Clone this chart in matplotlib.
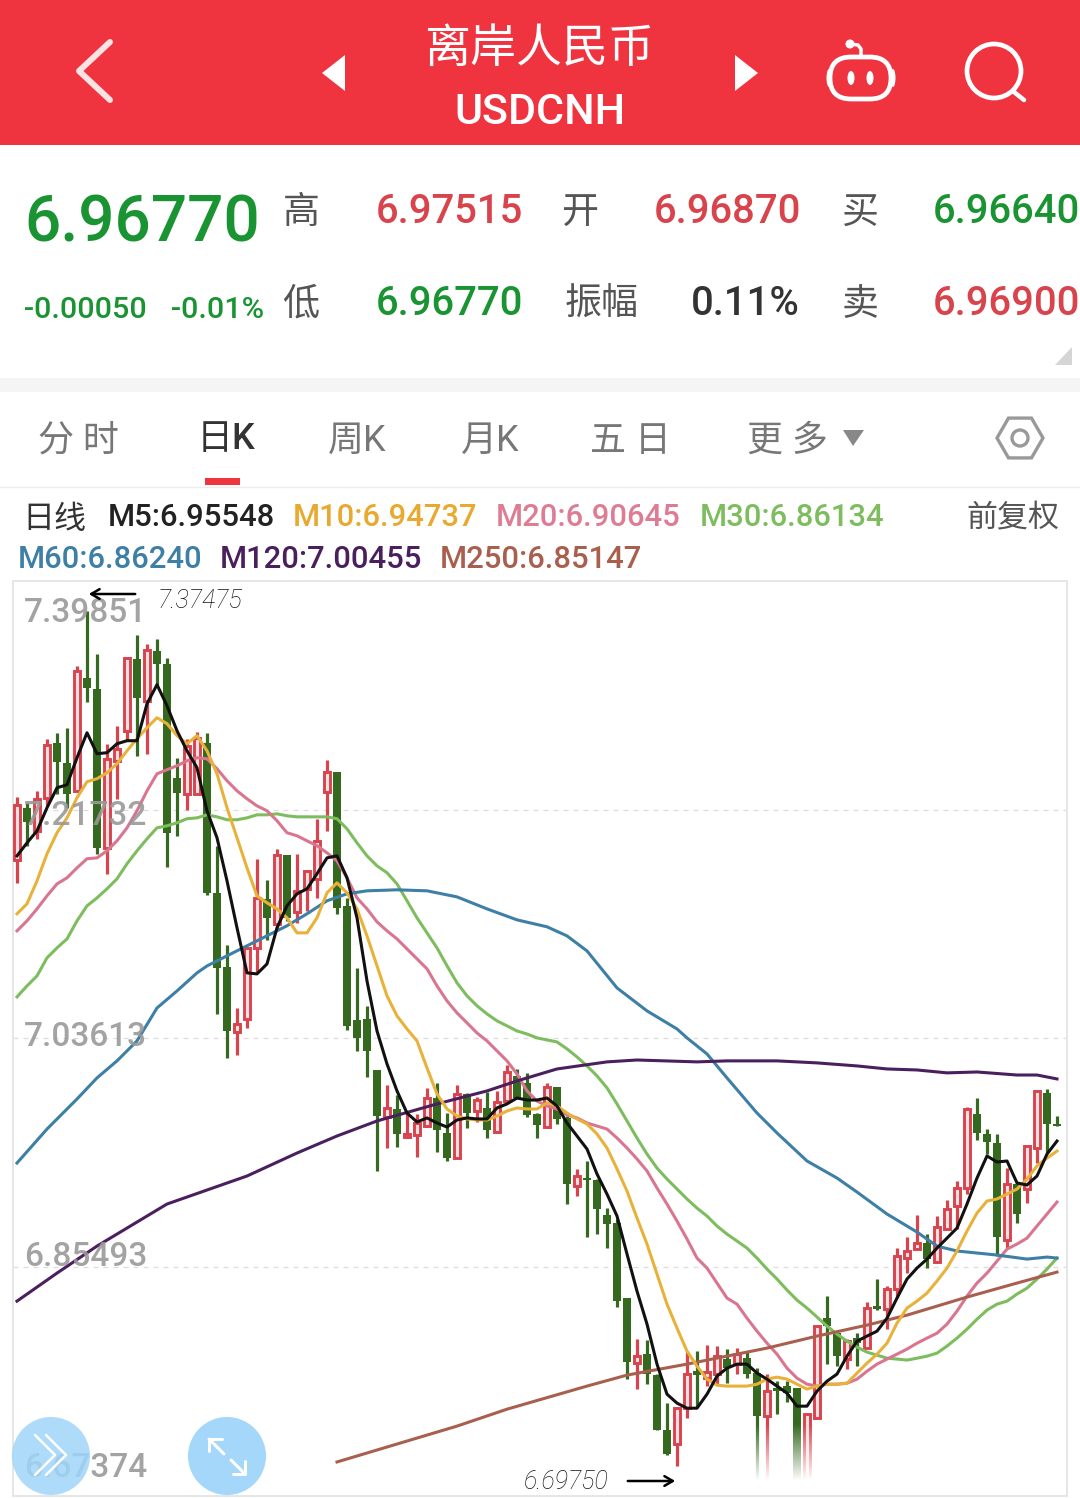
import numpy as np
import matplotlib
matplotlib.use('Agg')
import matplotlib.pyplot as plt
from matplotlib.patches import Rectangle, Circle, Polygon, FancyBboxPatch, Ellipse

plt.rcParams['font.family'] = ['Roboto', 'Noto Sans CJK SC', 'DejaVu Sans']

# 日K数据，从图上读的
high = [7.2276,7.2228,7.2323,7.2736,7.2783,7.2823,7.3314,7.37475,7.3409,7.2696,7.2839,7.3386,7.3560,7.3489,7.3528,7.3378,7.2585,7.2736,7.2791,7.2783,
        7.1887,7.1103,7.0603,7.1079,7.1785,7.1618,7.1864,7.1816,7.1824,7.1697,7.2102,7.2569,7.2474,7.1475,7.0921,7.0620,7.0112,6.9993,6.9914,6.9787,
        6.9763,6.9970,7.0009,6.9771,6.9993,6.9930,6.9898,6.9938,6.9946,7.0152,7.0120,7.0089,6.9771,7.0009,6.9977,6.9747,6.9328,6.9391,6.9248,6.9018,
        6.8931,6.8305,6.7980,6.7972,6.7703,6.7473,6.7441,6.7885,6.7885,6.7933,6.7925,6.7901,6.7909,6.7885,6.7750,6.7703,6.7647,6.7647,6.7592,6.7386,
        6.8083,6.8321,6.8043,6.7980,6.8027,6.8273,6.8456,6.8400,6.8701,6.8789,6.8963,6.8812,6.8955,6.9082,6.9232,6.9819,6.9890,6.9644,6.9605,6.9335,
        6.9217,6.9518,6.9954,6.9961,6.9747]
low = [7.1594,7.1888,7.1943,7.2204,7.2300,7.2189,7.2323,7.3029,7.1824,7.1666,7.2260,7.2728,7.2601,7.2617,7.3156,7.1721,7.1967,7.2173,7.2300,7.1499,
       7.0556,7.0207,7.0231,7.0445,7.0881,7.1143,7.1229,7.1293,7.1277,7.1372,7.1475,7.2006,7.1349,7.0429,7.0263,7.0057,6.9312,6.9494,6.9502,6.9573,
       6.9423,6.9660,6.9462,6.9391,6.9414,6.9652,6.9700,6.9573,6.9613,6.9858,6.9882,6.9740,6.9573,6.9652,6.9684,6.9050,6.9114,6.8789,6.8812,6.8701,
       6.8234,6.7663,6.7584,6.7623,6.7259,6.7061,6.6975,6.7354,6.7441,6.7608,6.7623,6.7631,6.7703,6.7671,6.6831,6.6831,6.7386,6.7481,6.6831,6.6831,
       6.7354,6.7782,6.7766,6.7742,6.7766,6.7909,6.8210,6.8059,6.8305,6.8503,6.8693,6.8543,6.8582,6.8844,6.8852,6.9129,6.9557,6.9446,6.8638,6.8701,
       6.8899,6.9058,6.9375,6.9454,6.9668]
open_ = [7.1777,7.2189,7.2006,7.2268,7.2704,7.2545,7.2323,7.3219,7.3132,7.1872,7.2561,7.2799,7.3370,7.3037,7.3433,7.3330,7.2427,7.2300,7.2300,7.2704,
         7.1515,7.0929,7.0413,7.0516,7.1079,7.1468,7.1269,7.1816,7.1364,7.1547,7.1626,7.2315,7.2474,7.1412,7.0508,7.0516,7.0112,6.9740,6.9803,6.9581,
         6.9597,6.9668,6.9890,6.9613,6.9414,6.9922,6.9787,6.9811,6.9621,6.9866,7.0065,7.0009,6.9763,6.9660,6.9977,6.9732,6.9193,6.9256,6.9241,6.8963,
         6.8899,6.8305,6.7790,6.7861,6.7695,6.7259,6.7148,6.7433,6.7727,6.7671,6.7703,6.7822,6.7782,6.7829,6.7711,6.7370,6.7592,6.7608,6.7592,6.6854,
         6.7354,6.8146,6.8027,6.7822,6.7988,6.7909,6.8241,6.8218,6.8376,6.8622,6.8693,6.8741,6.8590,6.8852,6.9034,6.9177,6.9763,6.9605,6.9534,6.8765,
         6.9209,6.9169,6.9494,6.9930,6.9684]
close = [7.2212,7.2078,7.2260,7.2688,7.2553,7.2300,7.3275,7.3140,7.1872,7.2577,7.2656,7.3378,7.3061,7.3441,7.3330,7.1991,7.2308,7.2680,7.2744,7.1515,
         7.0921,7.0421,7.0477,7.1079,7.1475,7.1317,7.1816,7.1317,7.1531,7.1689,7.1927,7.2474,7.1396,7.0461,7.0366,7.0263,6.9747,6.9811,6.9605,6.9605,
         6.9692,6.9890,6.9636,6.9414,6.9922,6.9771,6.9874,6.9636,6.9858,7.0096,6.9890,6.9756,6.9676,6.9977,6.9724,6.9209,6.9272,6.9241,6.9010,6.8892,
         6.8281,6.7798,6.7845,6.7703,6.7259,6.7069,6.7433,6.7703,6.7695,6.7719,6.7845,6.7750,6.7861,6.7703,6.7370,6.7568,6.7568,6.7552,6.6854,6.7386,
         6.8083,6.8083,6.7845,6.7964,6.7948,6.8226,6.8218,6.8376,6.8638,6.8678,6.8741,6.8614,6.8868,6.9010,6.9177,6.9803,6.9613,6.9541,6.8789,6.9209,
         6.8971,6.9510,6.9946,6.9684,6.9668]

ma5 = [7.1808,7.1911,7.2006,7.2189,7.2347,7.2371,7.2585,7.2783,7.2617,7.2625,7.2696,7.2720,7.2720,7.3013,7.3164,7.2997,7.2799,7.2640,7.2506,7.2165,
       7.1951,7.1610,7.1238,7.0881,7.0873,7.0952,7.1238,7.1412,7.1507,7.1547,7.1666,7.1792,7.1808,7.1634,7.1317,7.0817,7.0421,7.0160,6.9946,6.9771,
       6.9700,6.9732,6.9692,6.9660,6.9716,6.9732,6.9724,6.9724,6.9811,6.9843,6.9890,6.9874,6.9874,6.9890,6.9827,6.9692,6.9589,6.9486,6.9288,6.9129,
       6.8955,6.8654,6.8360,6.8099,6.7782,6.7544,6.7473,6.7433,6.7433,6.7544,6.7687,6.7750,6.7782,6.7782,6.7711,6.7663,6.7608,6.7552,6.7449,6.7449,
       6.7568,6.7647,6.7703,6.7845,6.7964,6.8004,6.8043,6.8146,6.8305,6.8456,6.8543,6.8614,6.8701,6.8780,6.8860,6.9050,6.9256,6.9431,6.9383,6.9391,
       6.9217,6.9201,6.9272,6.9446,6.9549]
ma10 = [7.1349,7.1428,7.1610,7.1824,7.1991,7.2109,7.2268,7.2395,7.2419,7.2466,7.2538,7.2640,7.2736,7.2823,7.2902,7.2855,7.2760,7.2696,7.2760,7.2640,
        7.2458,7.2189,7.1951,7.1713,7.1491,7.1436,7.1388,7.1317,7.1198,7.1198,7.1317,7.1515,7.1594,7.1515,7.1388,7.1174,7.0937,7.0699,7.0540,7.0437,
        7.0342,7.0128,6.9922,6.9803,6.9747,6.9724,6.9716,6.9716,6.9747,6.9787,6.9811,6.9803,6.9803,6.9851,6.9827,6.9771,6.9724,6.9684,6.9605,6.9494,
        6.9328,6.9153,6.8939,6.8733,6.8495,6.8257,6.8067,6.7885,6.7766,6.7663,6.7615,6.7608,6.7608,6.7608,6.7623,6.7663,6.7679,6.7663,6.7623,6.7584,
        6.7608,6.7623,6.7623,6.7631,6.7711,6.7790,6.7861,6.7948,6.8107,6.8226,6.8281,6.8345,6.8440,6.8543,6.8678,6.8836,6.8979,6.9074,6.9090,6.9129,
        6.9169,6.9248,6.9352,6.9414,6.9470]
ma20 = [7.1214,7.1293,7.1388,7.1491,7.1586,7.1634,7.1713,7.1785,7.1792,7.1848,7.1927,7.2030,7.2165,7.2323,7.2458,7.2490,7.2522,7.2561,7.2585,7.2577,
        7.2498,7.2403,7.2323,7.2260,7.2204,7.2165,7.2086,7.1991,7.1967,7.1927,7.1888,7.1832,7.1769,7.1634,7.1475,7.1388,7.1285,7.1214,7.1150,7.1071,
        7.0992,7.0913,7.0778,7.0659,7.0564,7.0485,7.0405,7.0342,7.0263,7.0184,7.0080,6.9946,6.9866,6.9827,6.9803,6.9756,6.9732,6.9692,6.9668,6.9644,
        6.9573,6.9494,6.9407,6.9312,6.9177,6.9050,6.8915,6.8773,6.8622,6.8543,6.8424,6.8305,6.8257,6.8146,6.8043,6.7948,6.7861,6.7750,6.7671,6.7623,
        6.7608,6.7623,6.7623,6.7631,6.7663,6.7726,6.7782,6.7822,6.7861,6.7901,6.7948,6.7988,6.8027,6.8099,6.8202,6.8321,6.8424,6.8503,6.8598,6.8693,
        6.8733,6.8780,6.8876,6.8971,6.9066]
ma30 = [7.0691,7.0778,7.0857,7.1000,7.1079,7.1150,7.1293,7.1412,7.1475,7.1547,7.1626,7.1745,7.1848,7.1943,7.2030,7.2046,7.2070,7.2102,7.2109,7.2133,
        7.2117,7.2094,7.2094,7.2109,7.2133,7.2133,7.2141,7.2125,7.2117,7.2117,7.2117,7.2117,7.2102,7.2022,7.1911,7.1808,7.1729,7.1674,7.1586,7.1452,
        7.1317,7.1198,7.1079,7.0937,7.0802,7.0699,7.0620,7.0556,7.0501,7.0461,7.0421,7.0397,7.0366,7.0350,7.0334,7.0279,7.0215,7.0144,7.0065,6.9970,
        6.9843,6.9708,6.9573,6.9446,6.9335,6.9248,6.9169,6.9090,6.9018,6.8955,6.8876,6.8812,6.8757,6.8701,6.8622,6.8535,6.8456,6.8369,6.8289,6.8226,
        6.8155,6.8083,6.8020,6.7964,6.7917,6.7877,6.7853,6.7829,6.7822,6.7814,6.7829,6.7845,6.7869,6.7925,6.7988,6.8059,6.8138,6.8210,6.8257,6.8281,
        6.8337,6.8384,6.8456,6.8535,6.8622]
# 长周期均线比较平滑，隔几根取一个点
ma60_i = [0,3,6,8,10,12,14,16,18,19,21,24,27,29,31,33,35,38,41,44,47,50,53,55,57,60,63,66,67,69,71,74,76,79,82,84,87,90,92,94,96,98,101,103,104]
ma60 = [6.9375,6.9644,6.9882,7.0049,7.0184,7.0342,7.0603,7.0738,7.0881,7.0936,7.1016,7.1135,7.1254,7.1349,7.1452,7.1507,7.1531,7.1539,7.1531,7.1483,
        7.1388,7.1301,7.1246,7.1174,7.1055,7.0762,7.0580,7.0437,7.0366,7.0239,7.0049,6.9771,6.9613,6.9391,6.9256,6.9145,6.8971,6.8828,6.8717,6.8678,
        6.8662,6.8646,6.8614,6.8630,6.8622]
ma120_i = [0,4,8,15,23,28,32,36,42,47,50,54,59,62,68,71,76,80,84,87,90,93,96,100,102,104]
ma120 = [6.8281,6.8503,6.8717,6.9050,6.9272,6.9454,6.9589,6.9708,6.9843,6.9946,7.0025,7.0120,7.0176,7.0191,7.0176,7.0184,7.0184,7.0168,7.0144,7.0120,
         7.0112,7.0089,7.0096,7.0072,7.0072,7.0041]
ma250_i = [32,44,49,57,61,67,75,80,85,89,95,100,104]
ma250 = [6.7007,6.7291,6.7425,6.7608,6.7695,6.7782,6.7909,6.8004,6.8091,6.8170,6.8313,6.8424,6.8511]

yticks = [7.39851, 7.21732, 7.03613, 6.85493, 6.67374]
ytick_labels = ['7.39851', '7.21732', '7.03613', '6.85493', '6.67374']

ma_legend1 = [('M5:6.95548', '#222222'), ('M10:6.94737', '#E8A92E'), ('M20:6.90645', '#DE7C93'), ('M30:6.86134', '#7DBD5E')]
ma_legend2 = [('M60:6.86240', '#3E7FA6'), ('M120:7.00455', '#4A1F5E'), ('M250:6.85147', '#A95F4E')]

RED = '#D8434E'
GREEN = '#35691F'
HEAD = '#EF333F'
UP = '#D9434B'
DOWN = '#1A9432'

W, H = 1080, 1498
fig = plt.figure(figsize=(W / 100, H / 100), dpi=100, facecolor='white')

# K线区域
ax = fig.add_axes([13 / W, 1 - 1496 / H, (1067 - 13) / W, (1496 - 581) / H])
ax.set_xlim(-0.4, 105)
ax.set_ylim(yticks[-1], yticks[0])
ax.set_xticks([])
ax.set_yticks([])
for s in ax.spines.values():
    s.set_color('#E6E6E6')
    s.set_linewidth(1.4)
for t in yticks[1:-1]:
    ax.axhline(t, color='#DDDDDD', lw=0.9, ls=(0, (4, 4)), zorder=1)

idx = np.arange(len(close))
o = np.array(open_)
c = np.array(close)
up = c >= o
colors = [RED if u else GREEN for u in up]
ax.vlines(idx, low, high, colors=colors, lw=2.3, zorder=2)
ax.bar(idx[~up], np.maximum(np.abs(c - o)[~up], 0.001), bottom=np.minimum(o, c)[~up], width=0.76, color=GREEN, lw=0, zorder=3)
ax.bar(idx[up], np.maximum(np.abs(c - o)[up], 0.001), bottom=np.minimum(o, c)[up], width=0.58,
       facecolor='#F8DFE1', edgecolor=RED, lw=2.1, zorder=3)

ax.plot(idx, ma30, color='#7DBD5E', lw=2.2, zorder=4)
ax.plot(idx, ma20, color='#DA7590', lw=2.2, zorder=4)
ax.plot(ma60_i, ma60, color='#3E7FA6', lw=2.2, zorder=4)
ax.plot(ma120_i, ma120, color='#4A1F5E', lw=2.2, zorder=4)
ax.plot(ma250_i, ma250, color='#A95F4E', lw=2.2, zorder=4)
ax.plot(idx, ma10, color='#E8B23A', lw=2.2, zorder=5)
ax.plot(idx, ma5, color='#111111', lw=2.2, zorder=6)

# 上面一层全部按像素画
ui = fig.add_axes([0, 0, 1, 1], zorder=5)
ui.patch.set_alpha(0)
ui.axis('off')


def txt(x, y, s, px, color, ha='center', **kw):
    ui.text(x, y, s, fontsize=px * 0.72, color=color, ha=ha, va='center', **kw)


def line(xs, ys, color='white', px=5, **kw):
    ui.plot(xs, ys, color=color, lw=px * 0.72, solid_capstyle='round', solid_joinstyle='round', **kw)


# 底部水印渐变
grad = np.ones((80, 2, 4))
grad[:, :, 3] = np.clip(np.linspace(-0.1, 1.1, 80), 0, 1)[:, None]
ui.imshow(grad, extent=[745, 820, 1486, 1418], aspect='auto', zorder=1)

ui.set_xlim(0, W)
ui.set_ylim(H, 0)

# 标题栏
ui.add_patch(Rectangle((0, 0), W, 145, color=HEAD, lw=0))
line([110, 79, 110], [42, 71, 100], px=6, color='#FBE3E4')
ui.add_patch(Polygon([[345, 55], [322, 73], [345, 91]], color='white', lw=0))
ui.add_patch(Polygon([[735, 55], [758, 73], [735, 91]], color='white', lw=0))
txt(539, 49, '离岸人民币', 46, 'white', weight='medium')
txt(540, 112, 'USDCNH', 43, 'white', weight='medium')
# 机器人图标
ui.add_patch(FancyBboxPatch((830, 57), 61, 42, boxstyle='round,pad=0,rounding_size=21', fill=False, ec='white', lw=3.4))
ui.add_patch(Ellipse((829, 78), 5, 18, color='white', lw=0))
ui.add_patch(Ellipse((893, 78), 5, 18, color='white', lw=0))
ui.add_patch(Circle((850, 44), 4.5, color='white', lw=0))
line([850, 858, 861, 861], [44, 45, 49, 56], px=3.5)
ui.add_patch(Ellipse((851, 78), 7, 14, color='white', lw=0))
ui.add_patch(Ellipse((870, 78), 7, 14, color='white', lw=0))
ui.add_patch(Circle((994, 71), 27, fill=False, ec='white', lw=3.4))
line([1014, 1024], [92, 100], px=4.5)

# 报价
txt(142, 224, '6.96770', 64, DOWN, weight='medium')
txt(85, 310, '-0.00050', 30.5, DOWN, weight='medium')
txt(218, 310, '-0.01%', 30.5, DOWN, weight='medium')
for x, y, s in [(301, 213, '高'), (580, 213, '开'), (860, 213, '买'), (301, 305, '低'), (602, 305, '振幅'), (860, 305, '卖')]:
    txt(x, y, s, 37, '#555555')
txt(449, 212, '6.97515', 40, UP, weight='medium')
txt(727, 212, '6.96870', 40, UP, weight='medium')
txt(1006, 212, '6.96640', 40, DOWN, weight='medium')
txt(449, 304, '6.96770', 40, DOWN, weight='medium')
txt(745, 304, '0.11%', 40, '#333333', weight='medium')
txt(1006, 304, '6.96900', 40, UP, weight='medium')
ui.add_patch(Polygon([[1072, 347], [1072, 365], [1055, 365]], color='#D5D5D5', lw=0))
ui.add_patch(Rectangle((0, 378), W, 14, color='#F5F5F5', lw=0))

# 周期切换
for x, s in [(78, '分 时'), (357, '周K'), (490, '月K'), (630, '五 日'), (787, '更 多')]:
    txt(x, 441, s, 36, '#777777')
txt(226, 440, '日K', 36, '#333333', weight='medium')
ui.add_patch(Rectangle((205, 478), 35, 7, color=HEAD, lw=0))
ui.add_patch(Polygon([[843, 430], [864, 430], [853, 446]], color='#888888', lw=0))
ang = np.deg2rad(np.arange(0, 360, 60))
ui.add_patch(Polygon(np.c_[1020 + 23 * np.cos(ang), 438 + 23 * np.sin(ang)], fill=False, ec='#999999', lw=2.4))
ui.add_patch(Circle((1020, 438), 8, fill=False, ec='#999999', lw=2.4))
ui.plot([0, W], [487, 487], color='#EEEEEE', lw=1)

# 均线图例
txt(54, 519, '日线', 32, '#333333')
for x, (s, col) in zip([191, 385, 588, 792], ma_legend1):
    txt(x, 518, s, 31, col, weight='medium')
txt(1013, 519, '前复权', 31, '#555555')
for x, (s, col) in zip([110, 321, 541], ma_legend2):
    txt(x, 559, s, 31, col, weight='medium')

# 价格刻度
for y, s in zip([613, 816, 1037, 1257, 1468], ytick_labels):
    txt(24, y, s, 33.5, '#999999', ha='left', weight='medium', alpha=0.9)

# 手写标注
ui.annotate('', xy=(86, 594), xytext=(138, 594), arrowprops=dict(arrowstyle='->,head_width=0.35,head_length=0.6', color='black', lw=1.8))
ui.annotate('', xy=(678, 1481), xytext=(625, 1481), arrowprops=dict(arrowstyle='->,head_width=0.35,head_length=0.6', color='black', lw=1.8))
txt(200, 601, '7.37475', 25, '#111111', style='italic', weight='light')
txt(566, 1482, '6.69750', 25, '#111111', style='italic', weight='light')

# 左下两个按钮，半透明压在刻度文字上
ui.add_patch(Circle((51, 1456), 39, color='#9FD5F9', alpha=0.85, lw=0, zorder=6))
ui.add_patch(Circle((227, 1456), 39, color='#9FD5F9', alpha=0.95, lw=0, zorder=6))
line([35, 55, 35], [1435, 1455, 1475], px=2.5, zorder=7)
line([46, 66, 46], [1435, 1455, 1475], px=2.5, zorder=7)
line([209, 224], [1439, 1454], px=3, zorder=7)
line([209, 209, 222], [1451, 1439, 1439], px=3, zorder=7)
line([245, 231], [1474, 1460], px=3, zorder=7)
line([245, 245, 233], [1461, 1474, 1474], px=3, zorder=7)

fig.savefig('out.png', dpi=100)
